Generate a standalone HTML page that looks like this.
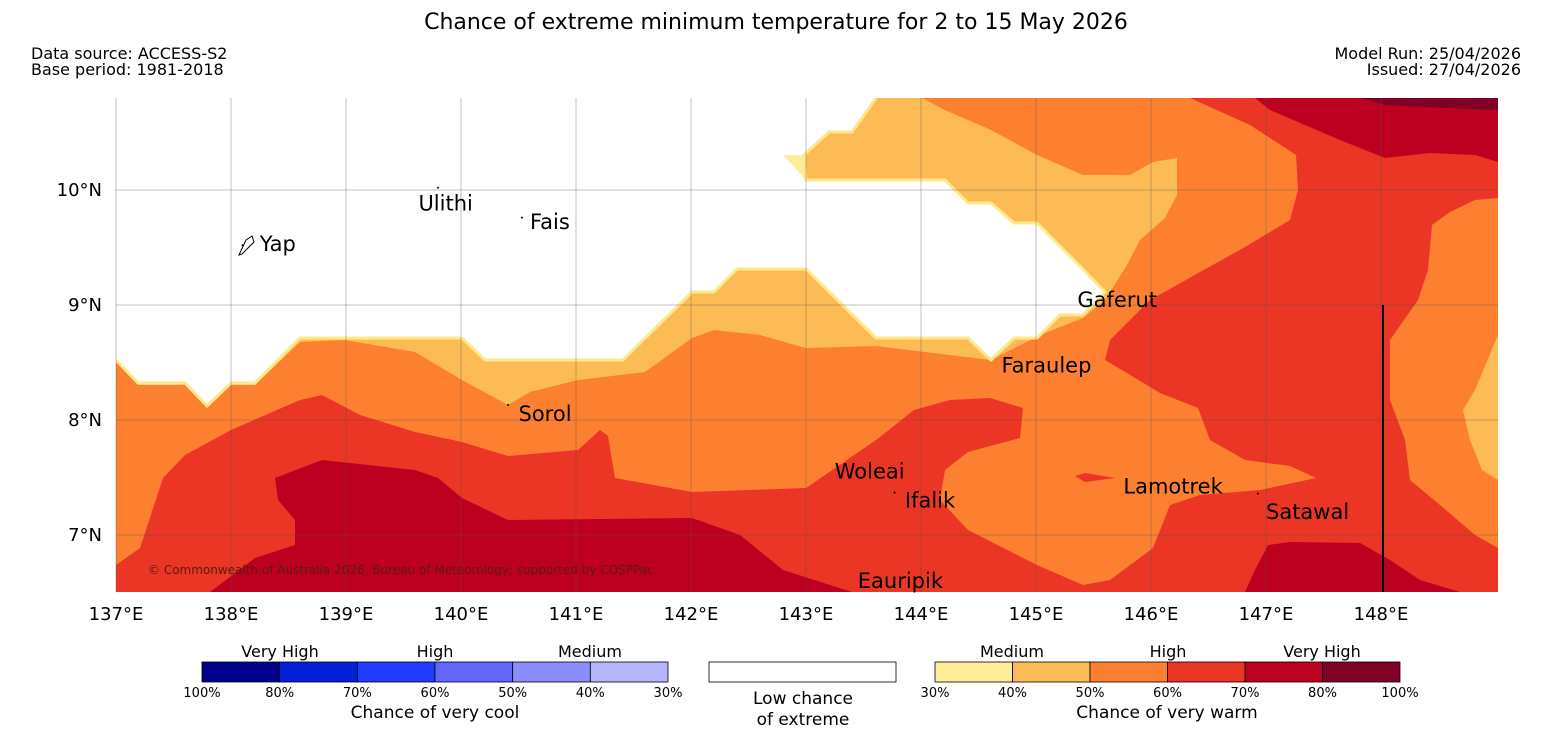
<!DOCTYPE html>
<html><head><meta charset="utf-8"><style>
body{margin:0;background:#fff;font-family:"DejaVu Sans",sans-serif}
svg{display:block}
</style></head><body>
<svg id="chart" width="1552" height="736" xmlns="http://www.w3.org/2000/svg" font-family="DejaVu Sans, Liberation Sans, sans-serif">
<text x="776" y="29" font-size="22" text-anchor="middle">Chance of extreme minimum temperature for 2 to 15 May 2026</text>
<text x="31" y="59" font-size="16">Data source: ACCESS-S2</text>
<text x="31" y="75" font-size="16">Base period: 1981-2018</text>
<text x="1521" y="59" font-size="16" text-anchor="end">Model Run: 25/04/2026</text>
<text x="1521" y="75" font-size="16" text-anchor="end">Issued: 27/04/2026</text>
<defs><clipPath id="clip"><rect x="116" y="98" width="1382" height="494"/></clipPath></defs>
<g id="map" clip-path="url(#clip)"></g>
<g id="axes"></g>
<g id="legend"></g>
</svg>
<script>
const lonTicks=[137,138,139,140,141,142,143,144,145,146,147,148];
const latTicks=[10,9,8,7];
const places=["Yap","Ulithi","Fais","Gaferut","Faraulep","Sorol","Woleai","Ifalik","Lamotrek","Satawal","Eauripik"];
const placeLon=[138.25,139.63,140.6,145.36,144.7,140.5,143.25,143.86,145.76,147.0,143.45];
const placeLat=[9.48,9.83,9.67,8.99,8.42,8.0,7.5,7.25,7.37,7.15,6.55];
const markLon=[138.1,139.8,140.53,null,null,140.41,null,143.77,null,146.93,null];
const markLat=[9.52,10.02,9.76,null,null,8.13,null,7.37,null,7.36,null];
const bands=["40-50","50-60","60-70","70-80","80-100"];
const bandColors=["#fdbb55","#fd8030","#eb3525","#bd0020","#800026"];
const layer40=[[116,360],[138,383],[185,383],[207,406],[231,383],[255,383],[300,338],[462,338],[485,360],[623,360],[692,292],[714,292],[737,269],[806,269],[876,338],[968,338],[991,360],[1014,338],[1037,338],[1060,315],[1083,315],[1105,292],[1083,269],[1037,223],[1014,223],[991,203],[968,203],[945,180],[806,180],[804,155],[829,132],[852,132],[876,98],[1498,98],[1498,592],[116,592]];
const layer50=[[116,362],[138,385],[185,385],[207,408],[231,385],[255,385],[300,342],[345,340],[415,352],[462,380],[508,405],[530,392],[578,380],[645,372],[692,338],[714,330],[760,335],[806,348],[876,346],[991,360],[1040,335],[1083,318],[1105,300],[1127,265],[1140,240],[1165,218],[1177,195],[1177,158],[1153,162],[1130,175],[1083,175],[1037,155],[991,130],[945,110],[922,98],[1498,98],[1498,592],[116,592]];
const layer60=[[116,565],[140,548],[163,478],[185,455],[231,430],[300,400],[322,395],[360,415],[415,432],[462,442],[508,456],[578,450],[600,430],[608,436],[615,478],[692,492],[806,488],[876,440],[914,410],[950,400],[990,398],[1023,408],[1020,438],[968,452],[945,470],[940,500],[968,530],[1037,565],[1083,585],[1110,580],[1153,548],[1170,505],[1200,495],[1260,490],[1316,478],[1290,466],[1245,460],[1210,440],[1198,408],[1160,393],[1130,375],[1105,360],[1110,340],[1150,300],[1245,247],[1290,220],[1298,190],[1296,155],[1250,125],[1190,98],[1498,98],[1498,592],[116,592]];
const patch50Right=[[1498,198],[1475,200],[1450,212],[1432,225],[1428,270],[1418,300],[1390,340],[1390,400],[1405,440],[1410,480],[1440,505],[1475,535],[1498,548]];
const patch40Right=[[1498,335],[1475,390],[1463,410],[1470,440],[1482,470],[1498,480]];
const patch60Island=[[1075,476],[1085,473],[1115,478],[1085,482]];
const layer70a=[[275,478],[322,460],[415,470],[438,478],[462,498],[508,520],[692,518],[740,535],[783,570],[852,592],[210,592],[255,558],[295,545],[295,520],[278,500]];
const layer70b=[[1245,592],[1255,570],[1268,545],[1290,542],[1360,543],[1390,560],[1420,580],[1460,592]];
const layer70c=[[1255,98],[1270,110],[1340,140],[1385,158],[1430,153],[1475,155],[1498,162],[1498,98]];
const layer80=[[1360,98],[1385,105],[1440,108],[1498,110],[1498,98]];
const paleEdge=layer40.slice(0,33);
const paleTri=[[783,155],[806,155],[806,180]];

const NS="http://www.w3.org/2000/svg";
const X=lon=>116+(lon-137)*115;
const Y=lat=>190-(lat-10)*115;
const pts=a=>a.map(p=>p.join(",")).join(" ");
function mk(parent,tag,attrs){const e=document.createElementNS(NS,tag);for(const k in attrs)e.setAttribute(k,attrs[k]);parent.appendChild(e);return e;}
const map=document.getElementById("map");
function poly(a,fill,name){const e=mk(map,"polygon",{points:pts(a),fill:fill});

}
poly(layer40,bandColors[0],"band-40-50");
poly(layer50,bandColors[1],"band-50-60");
poly(layer60,bandColors[2],"band-60-70");
poly(patch50Right,bandColors[1],"band-50-60-east");
poly(patch40Right,bandColors[0],"band-40-50-east");
poly(patch60Island,bandColors[2],"band-60-70-island");
poly(layer70a,bandColors[3],"band-70-80-southwest");
poly(layer70b,bandColors[3],"band-70-80-southeast");
poly(layer70c,bandColors[3],"band-70-80-northeast");
poly(layer80,bandColors[4],"band-80-100");
poly(paleTri,"#ffee99","band-30-40");
const pe=mk(map,"polyline",{points:pts(paleEdge),fill:"none",stroke:"#ffe88a","stroke-width":3});


const ax=document.getElementById("axes");
lonTicks.forEach(l=>{const g=mk(ax,"line",{x1:X(l),x2:X(l),y1:98,y2:592,stroke:"#555","stroke-width":0.5,opacity:0.7});


const t=mk(ax,"text",{x:X(l),y:620,"font-size":18,"text-anchor":"middle"});t.textContent=l+"°E";

});
latTicks.forEach(l=>{const g=mk(ax,"line",{x1:116,x2:1498,y1:Y(l),y2:Y(l),stroke:"#555","stroke-width":0.5,opacity:0.7});


const t=mk(ax,"text",{x:102,y:Y(l)+6,"font-size":18,"text-anchor":"end"});t.textContent=l+"°N";

});
const vl=mk(ax,"line",{x1:1383,x2:1383,y1:305,y2:592,stroke:"#000","stroke-width":2});


places.forEach((p,i)=>{const t=mk(ax,"text",{x:X(placeLon[i]),y:Y(placeLat[i])+1,"font-size":21});t.textContent=p;


if(markLon[i]!==null){const m=mk(ax,"circle",{cx:X(markLon[i]),cy:Y(markLat[i]),r:1,fill:"#000"});

}});
const yapI=mk(ax,"path",{d:"M239,255 L246,240 L252,236 L254,242 L248,248 L242,254 Z",fill:"none",stroke:"#000","stroke-width":1});


const cr=mk(ax,"text",{x:148,y:574,"font-size":12,fill:"#5a1a10"});cr.textContent="© Commonwealth of Australia 2026, Bureau of Meteorology; supported by COSPPac";


const lg=document.getElementById("legend");
const coolColors=["#00008f","#0020d9","#1e3cff","#6464ff","#8c8cff","#b4b4ff"];
const coolTicks=["100%","80%","70%","60%","50%","40%","30%"];
const warmColors=["#ffee99","#fdbb55","#fd8030","#eb3525","#bd0020","#800026"];
const warmTicks=["30%","40%","50%","60%","70%","80%","100%"];
function bar(x0,w,cols,ticks,name){const cw=w/cols.length;cols.forEach((c,i)=>{const r=mk(lg,"rect",{x:x0+i*cw,y:662,width:cw,height:20,fill:c,stroke:"#000","stroke-width":0.8});

});
ticks.forEach((t,i)=>{const e=mk(lg,"text",{x:x0+i*cw,y:697,"font-size":13,"text-anchor":"middle"});e.textContent=t;

});}
bar(202,466,coolColors,coolTicks,"cool-colorbar");
bar(935,465,warmColors,warmTicks,"warm-colorbar");
function txt(x,y,s,size,name){const e=mk(lg,"text",{x:x,y:y,"font-size":size,"text-anchor":"middle"});e.textContent=s;

}
txt(280,657,"Very High",16,"cool-very-high");txt(435,657,"High",16,"cool-high");txt(590,657,"Medium",16,"cool-medium");
txt(1012,657,"Medium",16,"warm-medium");txt(1168,657,"High",16,"warm-high");txt(1322,657,"Very High",16,"warm-very-high");
txt(435,718,"Chance of very cool",17,"cool-legend-title");txt(1167,718,"Chance of very warm",17,"warm-legend-title");
const wb=mk(lg,"rect",{x:709,y:662,width:187,height:20,fill:"#fff",stroke:"#000","stroke-width":0.8});


txt(803,704,"Low chance",17,"low-chance-label");txt(803,725,"of extreme",17,"low-chance-label-2");
</script>
</body></html>
